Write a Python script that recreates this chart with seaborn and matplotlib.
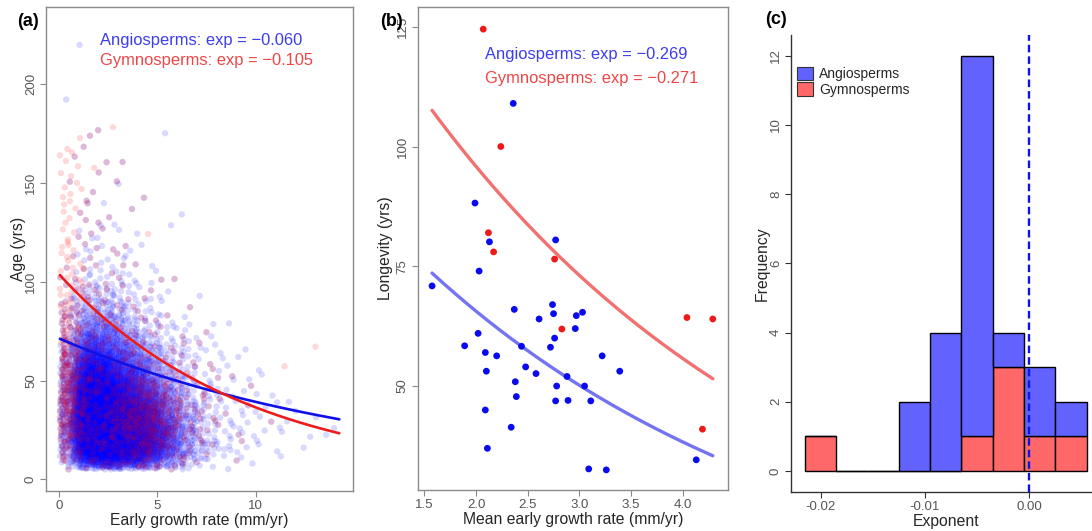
import numpy as np
import pandas as pd
import matplotlib
matplotlib.use("Agg")
import matplotlib.pyplot as plt
from matplotlib.patches import Patch
import seaborn as sns

# ---------------------------------------------------------------- data
# (a) tree-level records, tabulated as counts per cell:
# columns = early growth rate bins of 1 mm/yr (0-1, 1-2, ...),
# rows = age bins of 10 yrs (0-10, 10-20, ...)
rate_bin_width = 1.0
age_bin_width = 10.0
angio_density = [
    [4, 25, 35, 30, 22, 12, 6, 2, 1],
    [45, 360, 420, 360, 250, 115, 45, 18, 7, 4, 2, 1, 1, 1],
    [60, 420, 450, 360, 250, 115, 45, 18, 7, 5, 3, 2, 1, 1],
    [60, 400, 400, 300, 200, 85, 32, 14, 6, 4, 3, 1, 1, 1],
    [55, 340, 300, 210, 125, 55, 22, 9, 5, 3, 2, 1],
    [45, 250, 210, 135, 75, 32, 14, 6, 3, 2, 1],
    [30, 150, 125, 75, 38, 17, 8, 4, 2, 1],
    [16, 78, 65, 38, 18, 8, 4, 2, 1],
    [8, 38, 32, 18, 9, 4, 2, 1],
    [4, 19, 16, 9, 5, 2, 1],
    [2, 10, 8, 5, 2, 1],
    [1, 6, 5, 3, 1],
    [1, 5, 3, 2, 0, 1],
    [0, 3, 2, 1, 0, 1],
    [0, 2, 1, 1],
    [0, 1, 2, 1],
    [0, 2, 1],
    [0, 1, 0, 0, 1],
    [0, 1],
    [1],
    [],
    [],
    [1],
]
gymno_density = [
    [2, 3, 3, 4, 4, 3, 2],
    [15, 10, 8, 18, 22, 13, 6, 3, 1],
    [30, 12, 10, 25, 36, 22, 9, 4, 2, 1],
    [35, 12, 10, 25, 36, 22, 9, 4, 2, 1, 1],
    [35, 12, 9, 18, 22, 14, 6, 3, 1, 0, 1],
    [30, 10, 8, 10, 10, 6, 3, 2, 1, 0, 0, 1],
    [25, 9, 6, 6, 5, 3, 2, 1, 0, 0, 0, 0, 1],
    [20, 7, 5, 4, 3, 2, 1, 1],
    [15, 6, 4, 3, 2, 1, 1],
    [12, 5, 3, 2, 1, 1],
    [9, 4, 2, 1, 1],
    [7, 3, 2, 1],
    [5, 3, 1, 1, 1],
    [5, 2, 1, 1],
    [5, 3, 1, 1],
    [4, 2, 1, 1],
    [3, 2, 1],
    [1, 1, 1],
    [0, 1],
]
# fitted exponential models  age = a * exp(b * rate), over the observed rate range
a_fit_range = (0.06, 14.24)
a_fit_intercept = {"Angiosperms": 71.4, "Gymnosperms": 104.0}
a_fit_exponent = {"Angiosperms": -0.060, "Gymnosperms": -0.105}

# (b) species means
angio_rate = [2.36, 1.99, 2.13, 2.77, 2.03, 1.575, 2.37, 2.74, 2.75, 3.03,
              2.97, 2.61, 2.96, 2.02, 2.76, 1.89, 2.44, 2.72, 2.09, 2.20,
              3.22, 2.48, 2.10, 3.39, 2.58, 2.88, 2.38, 2.78, 3.05, 2.39,
              2.77, 2.89, 3.11, 2.09, 2.34, 2.11, 4.13, 3.09, 3.26]
angio_longevity = [109.0, 88.2, 80.1, 80.5, 74.0, 70.9, 66.0, 67.0, 65.1, 65.4,
                   64.7, 64.0, 62.0, 61.0, 60.0, 58.4, 58.3, 58.1, 57.0, 56.3,
                   56.3, 54.0, 53.1, 53.1, 52.6, 52.0, 50.9, 50.0, 50.0, 47.8,
                   46.9, 47.0, 46.9, 45.0, 41.4, 37.0, 34.6, 32.7, 32.5]
gymno_rate = [2.07, 2.24, 2.12, 2.17, 2.76, 2.83, 4.04, 4.29, 4.19]
gymno_longevity = [124.5, 100.0, 82.0, 78.0, 76.5, 61.9, 64.3, 64.0, 41.0]
b_fit_intercept = {"Angiosperms": 112.4, "Gymnosperms": 164.8}
b_fit_exponent = {"Angiosperms": -0.269, "Gymnosperms": -0.271}

# (c) per-site exponents, counted in bins of 0.003
exponent_bin_centers = [-0.020, -0.017, -0.014, -0.011, -0.008, -0.005, -0.002, 0.001, 0.004]
angio_exponent_counts = [0, 0, 0, 2, 4, 11, 1, 2, 1]
gymno_exponent_counts = [1, 0, 0, 0, 0, 1, 3, 1, 1]

groups = ["Angiosperms", "Gymnosperms"]

# ---------------------------------------------------------------- style
sns.set_style("white")
plt.rcParams["font.family"] = ["Liberation Sans", "DejaVu Sans"]
plt.rcParams["axes.unicode_minus"] = False

POINT = {"Angiosperms": "#0000ff", "Gymnosperms": "#ff0000"}
LINE_A = {"Angiosperms": "#1010e8", "Gymnosperms": "#ec1c1c"}
LINE_B = {"Angiosperms": "#7474f2", "Gymnosperms": "#f27070"}
TEXT = {"Angiosperms": "#3c3cf0", "Gymnosperms": "#ee4646"}
FILL = {"Angiosperms": "#6262ff", "Gymnosperms": "#ff6868"}
TICK_GREY = "#555555"
FRAME_GREY = "#8a8a8a"

W, H = 1092, 531
fig = plt.figure(figsize=(W / 100, H / 100), dpi=100)


def px_axes(left, top, right, bottom):
    return fig.add_axes([left / W, 1 - bottom / H, (right - left) / W, (bottom - top) / H])


def tent(u):
    """Inverse CDF of the triangular distribution on [-1, 1]."""
    return np.where(u < 0.5, np.sqrt(2 * u) - 1, 1 - np.sqrt(2 * (1 - u)))


def spread_cells(table, x_w, y_w, x_lim, y_min):
    """Lay the tabulated counts out as individual points around their cell centres."""
    xs, ys = [], []
    g1, g2 = 0.7548776662, 0.5698402910
    for i, row in enumerate(table):
        for j, n in enumerate(row):
            if n == 0:
                continue
            k = np.arange(n)
            u = np.mod(0.5 + k * g1 + j * 0.137 + i * 0.291, 1.0)
            v = np.mod(0.5 + k * g2 + j * 0.373 + i * 0.619, 1.0)
            xs.append((j + 0.5) * x_w + tent(u) * x_w)
            ys.append((i + 0.5) * y_w + tent(v) * y_w)
    x = np.concatenate(xs)
    y = np.concatenate(ys)
    x = np.where(x < x_lim[0], 2 * x_lim[0] - x, x)
    x = np.where(x > x_lim[1], 2 * x_lim[1] - x, x)
    y = np.where(y < y_min, 2 * y_min - y, y)
    return x, y


def frame_axes(ax):
    for s in ax.spines.values():
        s.set_visible(True)
        s.set_color(FRAME_GREY)
        s.set_linewidth(1.0)
    ax.tick_params(direction="out", length=4, width=0.8, color=FRAME_GREY,
                   labelcolor=TICK_GREY, labelsize=9.5, pad=2.5,
                   bottom=True, left=True)
    ax.tick_params(axis="y", labelrotation=90)
    for lab in ax.get_yticklabels():
        lab.set_va("center")


# ---------------------------------------------------------------- (a)
ax1 = px_axes(46, 7.3, 353.3, 491)
frames = []
for g, table in zip(groups, [angio_density, gymno_density]):
    x, y = spread_cells(table, rate_bin_width, age_bin_width, a_fit_range, 5.0)
    frames.append(pd.DataFrame({"rate": x, "age": y, "group": g}))
df_a = pd.concat(frames, ignore_index=True)
sns.scatterplot(data=df_a, x="rate", y="age", hue="group", palette=POINT,
                alpha=0.15, s=21, linewidth=0, legend=False, ax=ax1)
grid = np.linspace(a_fit_range[0], a_fit_range[1], 200)
for g in groups:
    sns.lineplot(x=grid, y=a_fit_intercept[g] * np.exp(a_fit_exponent[g] * grid),
                 color=LINE_A[g], lw=1.9, ax=ax1)
ax1.set_xlim(-0.645, 14.95)
ax1.set_ylim(-5.9, 238.9)
ax1.set_xticks([0, 5, 10])
ax1.set_yticks([0, 50, 100, 150, 200])
frame_axes(ax1)
ax1.set_xlabel("Early growth rate (mm/yr)", fontsize=11.3, labelpad=1)
ax1.set_ylabel("Age (yrs)", fontsize=11.3, labelpad=-1)
for k, g in enumerate(groups):
    ax1.text(100 / W, 1 - (41 + 19 * k) / H,
             f"{g}: exp = \u2212{abs(a_fit_exponent[g]):.3f}",
             transform=fig.transFigure, color=TEXT[g], fontsize=11.9,
             ha="left", va="center")

# ---------------------------------------------------------------- (b)
ax2 = px_axes(417.7, 7.3, 728.3, 490)
df_b = pd.concat([
    pd.DataFrame({"rate": angio_rate, "longevity": angio_longevity, "group": "Angiosperms"}),
    pd.DataFrame({"rate": gymno_rate, "longevity": gymno_longevity, "group": "Gymnosperms"}),
], ignore_index=True)
grid_b = np.linspace(df_b["rate"].min(), df_b["rate"].max(), 200)
for g in groups:
    sns.lineplot(x=grid_b, y=b_fit_intercept[g] * np.exp(b_fit_exponent[g] * grid_b),
                 color=LINE_B[g], lw=2.4, ax=ax2)
sns.scatterplot(data=df_b, x="rate", y="longevity", hue="group",
                palette={"Angiosperms": "#0a0aee", "Gymnosperms": "#ee1a1a"},
                s=24, linewidth=0, legend=False, ax=ax2, zorder=3)
ax2.set_xlim(1.436, 4.44)
ax2.set_ylim(28.3, 129.06)
ax2.set_xticks([1.5, 2.0, 2.5, 3.0, 3.5, 4.0])
ax2.set_xticklabels(["1.5", "2.0", "2.5", "3.0", "3.5", "4.0"])
ax2.set_yticks([50, 75, 100, 125])
frame_axes(ax2)
ax2.set_xlabel("Mean early growth rate (mm/yr)", fontsize=11.3, labelpad=1)
ax2.set_ylabel("Longevity (yrs)", fontsize=11.3, labelpad=3)
for k, g in enumerate(groups):
    ax2.text(485 / W, 1 - (55 + 23 * k) / H,
             f"{g}: exp = \u2212{abs(b_fit_exponent[g]):.3f}",
             transform=fig.transFigure, color=TEXT[g], fontsize=11.9,
             ha="left", va="center")

# ---------------------------------------------------------------- (c)
ax3 = px_axes(791, 35, 1100.6, 491.7)
df_c = pd.concat([
    pd.DataFrame({"exponent": exponent_bin_centers, "count": angio_exponent_counts, "group": "Angiosperms"}),
    pd.DataFrame({"exponent": exponent_bin_centers, "count": gymno_exponent_counts, "group": "Gymnosperms"}),
], ignore_index=True)
df_c["count"] = df_c["count"].astype(float)
sns.histplot(data=df_c, x="exponent", weights="count", hue="group", hue_order=groups,
             multiple="stack", binwidth=0.003, binrange=(-0.0215, 0.0055),
             palette=FILL, alpha=1.0,
             edgecolor="black", linewidth=1.0, legend=False, ax=ax3)
ax3.axvline(0.0, color="#1212e6", lw=1.7, ls=(0, (3.2, 1.7)), zorder=5)
ax3.set_xlim(-0.02285, 0.00685)
ax3.set_ylim(-0.6, 12.6)
ax3.set_xticks([-0.02, -0.01, 0.0])
ax3.set_xticklabels(["-0.02", "-0.01", "0.00"])
ax3.set_yticks([0, 2, 4, 6, 8, 10, 12])
for side in ["top", "right"]:
    ax3.spines[side].set_visible(False)
for side in ["left", "bottom"]:
    ax3.spines[side].set_visible(True)
    ax3.spines[side].set_color("#333333")
    ax3.spines[side].set_linewidth(1.0)
ax3.tick_params(direction="out", length=4, width=0.8, color="#333333",
                labelcolor=TICK_GREY, labelsize=9.5, pad=2.5, bottom=True, left=True)
ax3.tick_params(axis="y", labelrotation=90)
for lab in ax3.get_yticklabels():
    lab.set_va("center")
ax3.set_xlabel("Exponent", fontsize=11.3, labelpad=1)
ax3.set_ylabel("Frequency", fontsize=11.3, labelpad=0)
handles = [Patch(facecolor=FILL[g], edgecolor="#333333", linewidth=0.8, label=g) for g in groups]
ax3.legend(handles=handles, loc="upper left", bbox_to_anchor=(796.7 / W, 1 - 66.7 / H),
           bbox_transform=fig.transFigure, frameon=False, fontsize=10,
           handlelength=1.15, handleheight=1.15, handletextpad=0.45,
           labelspacing=0.08, borderpad=0, borderaxespad=0)

# ---------------------------------------------------------------- panel tags
for tag, xp, yp in [("(a)", 17, 22), ("(b)", 380, 22), ("(c)", 765, 20)]:
    fig.text(xp / W, 1 - yp / H, tag, fontsize=13, fontweight="bold",
             ha="left", va="center", color="black")

fig.savefig("out.png", dpi=100, facecolor="white")
